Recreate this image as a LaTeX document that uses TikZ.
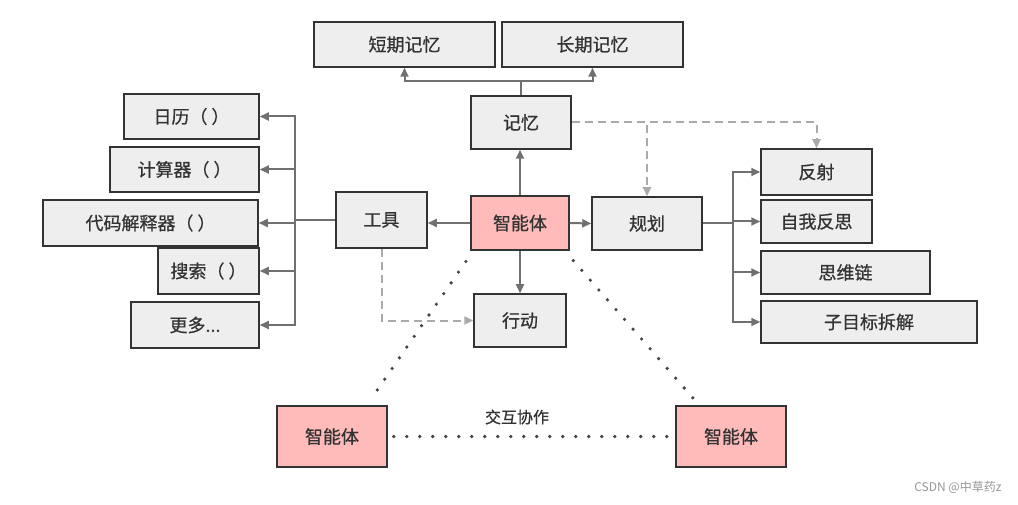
\documentclass[tikz,border=0pt]{standalone}
\usepackage{fontspec}
\usepackage{tikz}
\usetikzlibrary{arrows.meta,calc}
\setmainfont{Noto Sans CJK SC}
\newfontfamily\labelfont{Noto Sans CJK SC}[FakeBold=0.7]
\definecolor{boxfill}{RGB}{238, 238, 238}
\definecolor{boxline}{RGB}{51, 51, 51}
\definecolor{agentfill}{RGB}{255, 186, 186}
\definecolor{linkgray}{RGB}{112, 112, 112}
\definecolor{dashgray}{RGB}{170, 170, 170}
\definecolor{dotgray}{RGB}{68, 68, 68}
\definecolor{textgray}{RGB}{51, 51, 51}
\definecolor{markgray}{RGB}{150, 150, 150}

\begin{document}
\begin{tikzpicture}[x=1pt, y=-1pt,
  box/.style={draw=boxline, line width=1.5pt, fill=boxfill, inner sep=0pt,
    text=textgray, font=\labelfont\fontsize{18}{21}\selectfont},
  agentbox/.style={box, fill=agentfill},
  link/.style={draw=linkgray, line width=2pt},
  linkarrow/.style={link, -{Triangle[length=9pt, width=8pt]}},
  dashlink/.style={draw=dashgray, line width=2pt, dash pattern=on 8pt off 5pt,
    -{Triangle[length=9pt, width=8pt]}},
  dotlink/.style={draw=dotgray, line width=3.6pt, line cap=round,
    dash pattern=on 0pt off 13pt}
]
\useasboundingbox (0,0) rectangle (1018,505);

% memory
\node[box, minimum width=181pt, minimum height=45pt] (stm) at (404.5,44.5) {短期记忆};
\node[box, minimum width=181pt, minimum height=45pt] (ltm) at (592.5,44.5) {长期记忆};
\node[box, minimum width=100pt, minimum height=53pt] (mem) at (521,122.5) {记忆};

% centre
\node[agentbox, minimum width=98pt, minimum height=54pt] (agent) at (520,223) {智能体};
\node[box, minimum width=91pt, minimum height=56pt] (tools) at (381.5,220) {工具};
\node[box, minimum width=110pt, minimum height=53pt] (plan) at (647,223.5) {规划};
\node[box, minimum width=92pt, minimum height=53pt] (action) at (520,320.5) {行动};

% tools
\node[box, minimum width=135pt, minimum height=45pt] (cal) at (191.5,116.5) {日历（\hspace{4pt}）};
\node[box, minimum width=149pt, minimum height=45pt] (calc) at (184.5,169.5) {计算器（\hspace{4pt}）};
\node[box, minimum width=215pt, minimum height=46pt] (code) at (150.5,223) {代码解释器（\hspace{4pt}）};
\node[box, minimum width=101pt, minimum height=46pt] (search) at (208.5,271) {搜索（\hspace{4pt}）};
\node[box, minimum width=128pt, minimum height=46pt] (more) at (195,325) {更多...};

% planning
\node[box, minimum width=111pt, minimum height=46pt] (refl) at (816.5,172) {反射};
\node[box, minimum width=111pt, minimum height=43pt] (selfref) at (816.5,221.5) {自我反思};
\node[box, minimum width=169pt, minimum height=43pt] (cot) at (845.5,272.5) {思维链};
\node[box, minimum width=216pt, minimum height=42pt] (subgoal) at (869,322) {子目标拆解};

% other agents
\node[agentbox, minimum width=110pt, minimum height=61pt] (agentL) at (332,436.5) {智能体};
\node[agentbox, minimum width=110pt, minimum height=61pt] (agentR) at (731,436.5) {智能体};
\node[text=textgray, font=\labelfont\fontsize{16}{19}\selectfont] (collab) at (517,417) {交互协作};

% links
\draw[link] (mem.north) -- ++(0,-14) coordinate (mfork);
\draw[linkarrow] (mfork) -| (stm.south);
\draw[linkarrow] (mfork) -| (ltm.south);
\draw[linkarrow] (agent.north) -- (agent.north |- mem.south);
\draw[linkarrow] (agent.west) -- (agent.west -| tools.east);
\draw[linkarrow] (agent.east) -- (plan.west);
\draw[linkarrow] (agent.south) -- (action.north);

\draw[link] (tools.west) -- ++(-40,0) coordinate (tbus);
\foreach \t in {cal, calc, code, search, more}
  \draw[linkarrow] (tbus) |- (\t.east);

\draw[link] (plan.east) -- ++(30,0) coordinate (pbus);
\foreach \p in {refl, selfref, cot, subgoal}
  \draw[linkarrow] (pbus) |- (\p.west);

\draw[dashlink] (mem.east) -| (refl.north);
\draw[dashlink] (mem.east) -| (plan.north);
\draw[dashlink] (tools.south) |- (action.west);

% agent to agent
\draw[dotlink, shorten <=13pt, shorten >=8pt] ([xshift=3pt]agent.south west) -- ([xshift=-21pt]agentL.north east);
\draw[dotlink, shorten <=13pt, shorten >=8pt] ([xshift=-5pt]agent.south east) -- ([xshift=24pt]agentR.north west);
\draw[dotlink, shorten <=6pt, shorten >=8pt] (agentL.east) -- (agentR.west);

\node[text=markgray, font=\fontsize{12}{14}\selectfont, anchor=east] (mark) at (1005,487) {CSDN @中草药z};
\end{tikzpicture}
\end{document}
